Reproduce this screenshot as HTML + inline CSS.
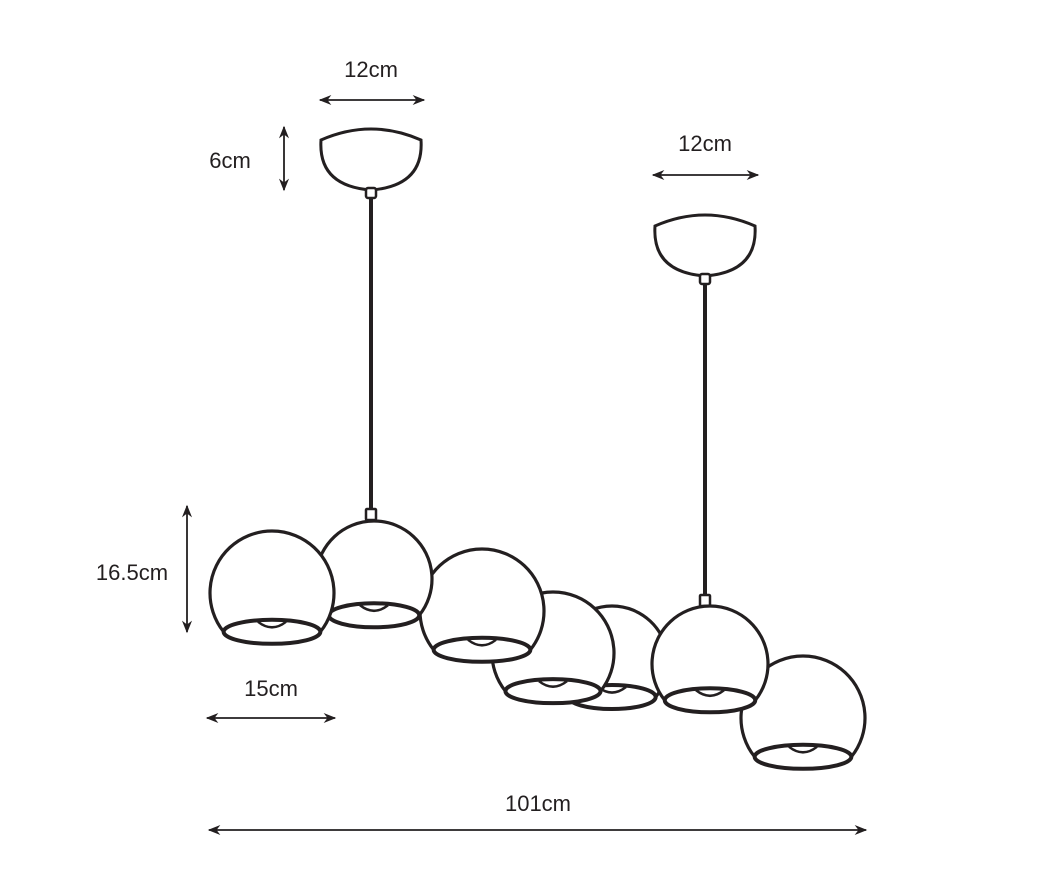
<!DOCTYPE html>
<html><head><meta charset="utf-8"><style>
html,body{margin:0;padding:0;background:#fff;}
svg text{font-family:"Liberation Sans",sans-serif;font-size:22px;fill:#231f20;text-anchor:middle;}
</style></head><body>
<svg id="s" width="1041" height="881" viewBox="0 0 1041 881" xmlns="http://www.w3.org/2000/svg">
<defs>
<marker id="a" viewBox="0 0 10 10" refX="9" refY="5" markerWidth="7" markerHeight="7" orient="auto-start-reverse"><path d="M0,1 L10,5 L0,9 L3,5 Z" fill="#231f20"/></marker>
</defs>
<g stroke="#231f20" stroke-width="1.8" fill="none" marker-start="url(#a)" marker-end="url(#a)">
<line x1="320" y1="100" x2="424" y2="100"/>
<line x1="284" y1="127" x2="284" y2="190"/>
<line x1="653" y1="175" x2="758" y2="175"/>
<line x1="187" y1="506" x2="187" y2="632"/>
<line x1="207" y1="718" x2="335" y2="718"/>
<line x1="209" y1="830" x2="866" y2="830"/>
</g>
<text x="371" y="77">12cm</text>
<text x="230" y="168">6cm</text>
<text x="705" y="151">12cm</text>
<text x="132" y="580">16.5cm</text>
<text x="271" y="696">15cm</text>
<text x="538" y="811">101cm</text>
<g stroke="#231f20" stroke-width="3" fill="#fff">
<path d="M321,140 Q371,118 421,140 Q424,186 371,190 Q318,186 321,140 Z"/>
<path d="M655,226 Q705,204 755,226 Q758,272 705,276 Q652,272 655,226 Z"/>
<line x1="371" y1="198" x2="371" y2="510" stroke-width="4"/>
<line x1="705" y1="284" x2="705" y2="596" stroke-width="4"/>
<rect x="366" y="188" width="10" height="10" rx="2" stroke-width="2.5"/>
<rect x="700" y="274" width="10" height="10" rx="2" stroke-width="2.5"/>
<rect x="366" y="509" width="10" height="11" rx="1" stroke-width="2.5"/>
<rect x="700" y="595" width="10" height="11" rx="1" stroke-width="2.5"/>
</g>
<g id="balls" stroke="#231f20" stroke-width="3.2" fill="#fff"></g>
</svg>
<script>
var balls=[[803,718,62],[612,662,56],[553,653,61],[710,664,58],[482,611,62],[374,579,58],[272,593,62]];
var g=document.getElementById('balls'),h='';
balls.forEach(function(b){var cx=b[0],cy=b[1],r=b[2];var dx=0.78*r,dy=Math.sqrt(r*r-dx*dx),ey=cy+dy;var rx=dx,ry=12;
h+='<path d="M'+(cx-dx)+','+ey+' A'+r+','+r+' 0 1 1 '+(cx+dx)+','+ey+' A'+rx+','+ry+' 0 0 1 '+(cx-dx)+','+ey+' Z"/>';
h+='<ellipse cx="'+cx+'" cy="'+ey+'" rx="'+rx+'" ry="'+ry+'" stroke-width="4"/>';
h+='<path d="M'+(cx-14)+','+(ey-10)+' Q'+cx+','+(ey+1)+' '+(cx+14)+','+(ey-10)+'" fill="none" stroke-width="2.5"/>';});
g.innerHTML=h;
</script>
</body></html>
